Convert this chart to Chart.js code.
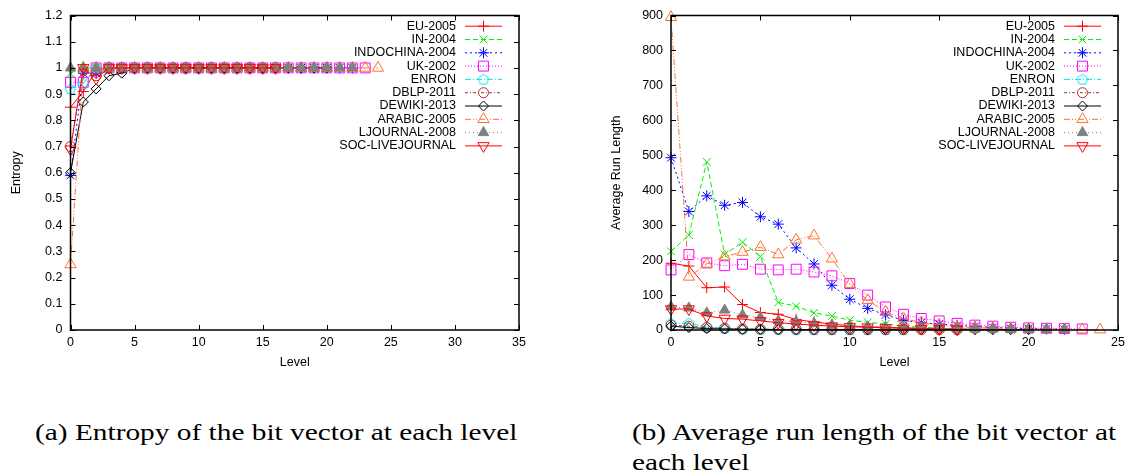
<!DOCTYPE html>
<html>
<head>
<meta charset="utf-8">
<script src="https://cdn.jsdelivr.net/npm/chart.js@4.4.1/dist/chart.umd.min.js"></script>
<style>
  html, body { margin: 0; padding: 0; background: #fff; }
  body { width: 1131px; height: 475px; position: relative; overflow: hidden; }
  canvas { position: absolute; top: 0; }
  #entropy { left: 0; }
  #runlen { left: 560px; }
  .cap { position: absolute; font-family: "Liberation Serif", "Times New Roman", serif; font-size: 24px; line-height: 30px; white-space: nowrap; color: #000; transform-origin: 0 50%; }
</style>
</head>
<body>
<canvas id="entropy" width="540" height="380"></canvas>
<canvas id="runlen" width="571" height="380"></canvas>
<div class="cap" id="capA" style="left:35px; top:417px">(a) Entropy of the bit vector at each level</div>
<div class="cap" id="capB1" style="left:632px; top:417px">(b) Average run length of the bit vector at</div>
<div class="cap" id="capB2" style="left:632px; top:447px">each level</div>
<script>
const levels = [0, 1, 2, 3, 4, 5, 6, 7, 8, 9, 10, 11, 12, 13, 14, 15, 16, 17, 18, 19, 20, 21, 22, 23, 24]
const graphs = ["EU-2005", "IN-2004", "INDOCHINA-2004", "UK-2002", "ENRON", "DBLP-2011", "DEWIKI-2013", "ARABIC-2005", "LJOURNAL-2008", "SOC-LIVEJOURNAL"]

// entropy per level (index = level)
const entEU = [0.85, 0.91, 0.99, 1, 1, 1, 1, 1, 1, 1, 1, 1, 1, 1, 1, 1, 1, 1, 1]
const entIN = [0.98, 1, 1, 1, 1, 1, 1, 1, 1, 1, 1, 1, 1, 1, 1, 1, 1, 1, 1, 1, 1]
const entINDOCHINA = [0.59, 0.98, 0.98, 1, 1, 1, 1, 1, 1, 1, 1, 1, 1, 1, 1, 1, 1, 1, 1, 1, 1, 1, 1]
const entUK = [0.945, 0.945, 1, 1, 1, 1, 1, 1, 1, 1, 1, 1, 1, 1, 1, 1, 1, 1, 1, 1, 1, 1, 1, 1]
const entENRON = [0.92, 0.94, 1, 1, 1, 1, 1, 1, 1, 1, 1, 1, 1, 1]
const entDBLP = [0.70, 0.99, 0.97, 1, 1, 1, 1, 1, 1, 1, 1, 1, 1, 1, 1, 1, 1]
const entDEWIKI = [0.60, 0.87, 0.92, 0.97, 0.98, 1, 1, 1, 1, 1, 1, 1, 1, 1, 1, 1, 1, 1, 1, 1, 1]
const entARABIC = [0.25, 1, 1, 1, 1, 1, 1, 1, 1, 1, 1, 1, 1, 1, 1, 1, 1, 1, 1, 1, 1, 1, 1, 1, 1]
const entLJOURNAL = [1, 1, 1, 1, 1, 1, 1, 1, 1, 1, 1, 1, 1, 1, 1, 1, 1, 1, 1, 1, 1, 1, 1]
const entSOC = [0.69, 1, 0.96, 1, 1, 1, 1, 1, 1, 1, 1, 1, 1, 1, 1, 1, 1]

// average run length per level
const runEU = [191, 183, 121, 123, 73, 50, 45, 30, 23, 17, 12, 9, 8, 6, 5, 4, 3, 2, 2]
const runIN = [225, 272, 481, 216, 251, 210, 79, 68, 49, 40, 28, 22, 17, 11, 8, 5, 3, 2, 1, 1, 1]
const runINDOCHINA = [493, 339, 384, 357, 365, 324, 303, 235, 189, 128, 88, 62, 43, 28, 21, 17, 13, 10, 7, 5, 4, 3, 2]
const runUK = [172, 216, 192, 184, 188, 174, 172, 174, 166, 155, 133, 100, 66, 45, 33, 26, 19, 14, 11, 8, 6, 5, 4, 3]
const runENRON = [19, 19, 9, 5, 3, 2, 2, 1, 1, 1, 1, 1, 1, 1]
const runDBLP = [14, 11, 7, 5, 3, 2, 2, 2, 1, 1, 1, 1, 1, 1, 1, 1, 1]
const runDEWIKI = [11, 7, 4, 3, 2, 2, 1, 1, 1, 1, 1, 1, 1, 1, 1, 1, 1, 1, 1, 1, 1]
const runARABIC = [895, 152, 189, 210, 223, 237, 216, 258, 270, 204, 131, 85, 52, 33, 21, 14, 9, 7, 5, 4, 3, 2, 2, 1, 1]
const runLJOURNAL = [66, 63, 49, 57, 43, 36, 26, 24, 19, 14, 11, 9, 8, 7, 6, 5, 4, 3, 3, 2, 2, 1, 1]
const runSOC = [60, 60, 40, 33, 31, 26, 21, 17, 14, 11, 9, 8, 6, 5, 4, 3, 2]

const entropySeries = [entEU, entIN, entINDOCHINA, entUK, entENRON, entDBLP, entDEWIKI, entARABIC, entLJOURNAL, entSOC]
const runSeries = [runEU, runIN, runINDOCHINA, runUK, runENRON, runDBLP, runDEWIKI, runARABIC, runLJOURNAL, runSOC]

// pentagon marker (no built-in style for it)
function pentagon(color) {
  const c = document.createElement("canvas")
  c.width = 14
  c.height = 14
  const g = c.getContext("2d")
  g.strokeStyle = color
  g.lineWidth = 1
  g.beginPath()
  for (let k = 0; k < 5; k++) {
    const a = -Math.PI / 2 + k * 2 * Math.PI / 5
    const px = 7 + 5.5 * Math.cos(a), py = 7.3 + 5.5 * Math.sin(a)
    if (k === 0) g.moveTo(px, py)
    else g.lineTo(px, py)
  }
  g.closePath()
  g.stroke()
  return c
}

// gnuplot-like line types
const styles = [
  { color: "#ff0000", dash: [], point: "cross", r: 5.5 },
  { color: "#00f000", dash: [5, 3], point: "crossRot", r: 5.5 },
  { color: "#0000ff", dash: [2, 3], point: "star", r: 5.5 },
  { color: "#ff00ff", dash: [1, 2], point: "rect", r: 7 },
  { color: "#00e8f0", dash: [6, 2, 1, 2], point: pentagon("#00e8f0"), r: 6 },
  { color: "#b03030", dash: [3, 2, 1, 2], point: "circle", r: 5 },
  { color: "#000000", dash: [], point: "rectRot", r: 5 },
  { color: "#ff7030", dash: [6, 2, 1, 2, 1, 2], point: "triangle", r: 6.5 },
  { color: "#808080", dash: [1, 3], point: "triangle", r: 6, fill: true },
  { color: "#ff0000", dash: [], point: "triangle", r: 6.5, rot: 180 },
]

const FONT = { family: "'Liberation Sans', Arial, sans-serif", size: 12.5 }

const framePlugin = {
  id: "frame",
  afterDatasetsDraw(chart) {
    const { ctx, chartArea: a, scales } = chart
    ctx.save()
    ctx.strokeStyle = "#000"
    ctx.lineWidth = 1
    ctx.setLineDash([])
    ctx.beginPath()
    scales.x.ticks.forEach((t) => {
      const px = Math.round(scales.x.getPixelForValue(t.value)) + 0.5
      ctx.moveTo(px, a.bottom); ctx.lineTo(px, a.bottom - 5)
      ctx.moveTo(px, a.top); ctx.lineTo(px, a.top + 5)
    })
    scales.y.ticks.forEach((t) => {
      const py = Math.round(scales.y.getPixelForValue(t.value)) + 0.5
      ctx.moveTo(a.left, py); ctx.lineTo(a.left + 5, py)
      ctx.moveTo(a.right, py); ctx.lineTo(a.right - 5, py)
    })
    ctx.stroke()
    ctx.lineWidth = 1.5
    ctx.strokeRect(a.left, a.top, a.right - a.left, a.bottom - a.top)
    ctx.restore()
  },
  afterDraw(chart) {
    const { ctx, chartArea: a } = chart
    ctx.save()
    ctx.font = FONT.size + "px " + FONT.family
    ctx.textAlign = "right"
    ctx.textBaseline = "middle"
    chart.data.datasets.forEach((ds, i) => {
      const st = styles[i]
      const ty = a.top + 10.7 + i * 13.3
      ctx.fillStyle = "#000"
      ctx.fillText(ds.label, a.right - 63, ty)
      ctx.strokeStyle = st.color
      ctx.lineWidth = 1
      ctx.setLineDash(st.dash)
      ctx.beginPath()
      ctx.moveTo(a.right - 54, ty)
      ctx.lineTo(a.right - 17, ty)
      ctx.stroke()
      ctx.setLineDash([])
      ctx.strokeStyle = st.color
      ctx.fillStyle = st.fill ? st.color : "rgba(0,0,0,0)"
      Chart.helpers.drawPoint(ctx, { pointStyle: st.point, radius: st.r, rotation: st.rot || 0, borderWidth: 1 }, a.right - 35.5, ty)
    })
    ctx.restore()
  },
}

function makeChart(id, series, opts) {
  const datasets = series.map((vals, i) => {
    const st = styles[i]
    return {
      label: graphs[i],
      data: vals.map((v, k) => ({ x: levels[k], y: v })),
      borderColor: st.color,
      borderWidth: 1,
      borderDash: st.dash,
      pointStyle: st.point,
      pointRadius: st.r,
      pointRotation: st.rot || 0,
      pointBorderColor: st.color,
      pointBackgroundColor: st.fill ? st.color : "rgba(0,0,0,0)",
      pointBorderWidth: 1,
      tension: 0,
      clip: false,
      order: series.length - i,
    }
  })

  return new Chart(document.getElementById(id).getContext("2d"), {
    type: "line",
    data: { datasets },
    plugins: [framePlugin],
    options: {
      responsive: false,
      animation: false,
      layout: { padding: { top: 13, right: opts.padRight, left: 0, bottom: 0 } },
      plugins: { legend: { display: false }, tooltip: { enabled: false } },
      scales: {
        x: {
          type: "linear",
          min: 0,
          max: opts.xMax,
          afterFit: (s) => { s.height = 50 },
          grid: { display: false, drawTicks: false },
          border: { display: false },
          ticks: { stepSize: 5, padding: 5, color: "#000", font: FONT },
          title: { display: true, text: "Level", color: "#000", font: FONT, padding: { top: 0, bottom: 10 } },
        },
        y: {
          min: 0,
          max: opts.yMax,
          afterFit: (s) => { s.width = opts.yWidth },
          grid: { display: false, drawTicks: false },
          border: { display: false },
          ticks: { stepSize: opts.yStep, padding: 8, color: "#000", font: FONT, callback: opts.yFmt },
          title: { display: true, text: opts.yTitle, color: "#000", font: FONT, padding: { top: opts.yTitlePad, bottom: 0 } },
        },
      },
    },
  })
}

makeChart("entropy", entropySeries, {
  xMax: 35, yMax: 1.2, yStep: 0.1, yWidth: 70.5, padRight: 21,
  yTitle: "Entropy", yTitlePad: 9,
  yFmt: (v) => String(Math.round(v * 10) / 10),
})

makeChart("runlen", runSeries, {
  xMax: 25, yMax: 900, yStep: 100, yWidth: 111, padRight: 13,
  yTitle: "Average Run Length", yTitlePad: 49,
  yFmt: (v) => String(v),
})

// stretch captions to the width they take in the figure
function fit(id, target, ref) {
  const el = document.getElementById(id)
  const w = document.getElementById(ref || id).offsetWidth
  el.style.transform = "scaleX(" + (target / w) + ")"
}
fit("capA", 483)
fit("capB1", 484)
fit("capB2", 484, "capB1")
</script>
</body>
</html>
